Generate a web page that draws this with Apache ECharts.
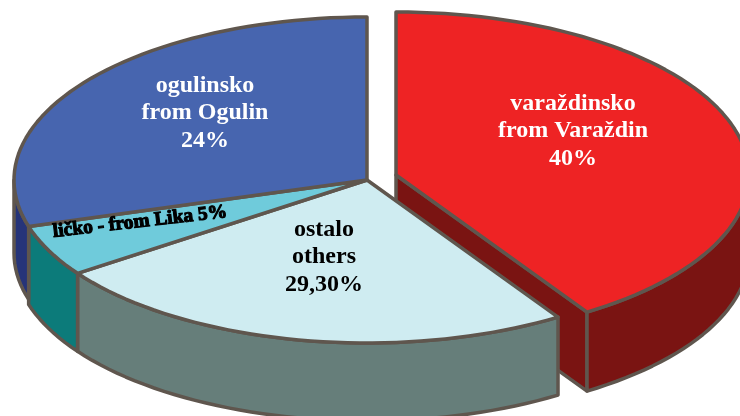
<!DOCTYPE html>
<html>
<head>
<meta charset="utf-8">
<style>
html,body{margin:0;padding:0;background:#fff;}
#main{width:740px;height:416px;}
</style>
<script src="https://cdn.jsdelivr.net/npm/echarts@6/dist/echarts.min.js"></script>
</head>
<body>
<div id="main"></div>
<script>
// slices clockwise from 12 o'clock, sizes
// (the printed percentages in the source do not follow the slice sizes)
var categories = ['varaždinsko', 'ostalo', 'ličko', 'ogulinsko'];
var sliceValues = [40.9, 24.4, 5.1, 29.6];
var sliceLabels = [
	'varaždinsko\nfrom Varaždin\n40%',
	'ostalo\nothers\n29,30%',
	'ličko - from Lika 5%',
	'ogulinsko\nfrom Ogulin\n24%'
];

var topColors = ['#ee2324', '#cfecf1', '#6fcbdb', '#4765af'];
var sideColors = ['#7a1412', '#667e7a', '#0c7b7a', '#263479'];
var lineColor = '#5f564e';

var cx = 367, cy = 180, rx = 353, ry = 163;
var depths = [79, 78, 78, 73];
var explodeX = [29, 0, 0, 0], explodeY = [-5, 0, 0, 0];

var total = sliceValues.reduce(function (a, b) { return a + b; }, 0);

function pt(ox, oy, deg, dy) {
	var r = deg * Math.PI / 180;
	return [ox + rx * Math.sin(r), oy - ry * Math.cos(r) + (dy || 0)];
}
function arc(ox, oy, a, b, dy) {
	var pts = [], n = Math.max(2, Math.ceil((b - a) / 2));
	for (var i = 0; i <= n; i++) pts.push(pt(ox, oy, a + (b - a) * i / n, dy));
	return pts;
}
function poly(points, fill) {
	return {
		type: 'polygon',
		shape: { points: points },
		style: { fill: fill, stroke: lineColor, lineWidth: 3.5, lineJoin: 'round' }
	};
}

var chart = echarts.init(document.getElementById('main'), null, { renderer: 'canvas' });

chart.setOption({
	animation: false,
	backgroundColor: '#fff',
	series: [{
		type: 'custom',
		coordinateSystem: 'none',
		silent: true,
		data: sliceValues.map(function (v, i) { return { name: categories[i], value: [v, i] }; }),
		renderItem: function (params, api) {
			var i = api.value(1), start = 0;
			for (var k = 0; k < i; k++) start += sliceValues[k] / total * 360;
			var end = start + api.value(0) / total * 360;
			var ox = cx + explodeX[i], oy = cy + explodeY[i], depth = depths[i];
			var children = [];

			// cut wall of the pulled out slice
			if (i === 0) {
				var c = pt(ox, oy, end);
				children.push(poly([[ox, oy], c, [c[0], c[1] + depth], [ox, oy + depth]], sideColors[i]));
			}
			// outer wall, only the front half of the ellipse is visible
			var a = Math.max(start, 90), b = Math.min(end, 270);
			if (b > a) {
				var upper = arc(ox, oy, a, b, 0);
				var lower = arc(ox, oy, a, b, depth).reverse();
				children.push(poly(upper.concat(lower), sideColors[i]));
			}
			// top face
			children.push(poly([[ox, oy]].concat(arc(ox, oy, start, end, 0)), topColors[i]));
			return { type: 'group', children: children };
		}
	}],
	graphic: [
		{ type: 'text', x: 573, y: 131, z: 10, style: textStyle(0, '#fff') },
		{ type: 'text', x: 324, y: 257, z: 10, style: textStyle(1, '#000') },
		{ type: 'text', x: 205, y: 113, z: 10, style: textStyle(3, '#fff') },
		{
			type: 'text', x: 140, y: 222, z: 10, rotation: 6.6 * Math.PI / 180,
			style: {
				text: sliceLabels[2], fill: '#000', stroke: '#000', lineWidth: 1.1,
				font: 'bold 19.5px "Liberation Serif"', align: 'center', verticalAlign: 'middle'
			}
		}
	]
});

function textStyle(i, color) {
	return {
		text: sliceLabels[i], fill: color,
		font: 'bold 24px "Liberation Serif"', lineHeight: 27.5,
		align: 'center', verticalAlign: 'middle'
	};
}
</script>
</body>
</html>
